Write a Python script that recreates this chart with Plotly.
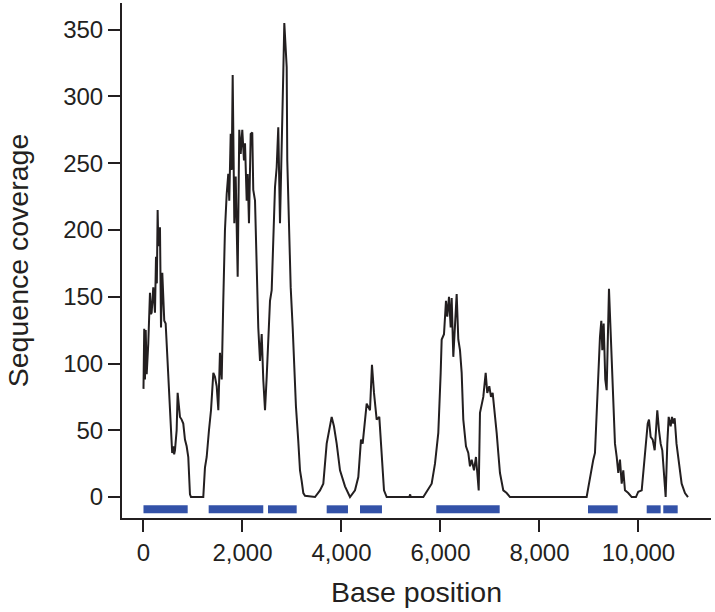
import plotly.graph_objects as go

# coverage trace
position = [0, 15, 30, 45, 65, 97, 131, 150, 165, 198, 232, 253, 270, 286, 300, 313, 333, 354, 380, 420, 448, 481, 521,
            556, 580, 602, 620, 636, 670, 690, 703, 737, 771, 804, 838, 872, 905, 939, 960, 1208, 1242, 1277, 1323,
            1364, 1411, 1444, 1479, 1512, 1545, 1580, 1612, 1646, 1681, 1713, 1733, 1762, 1782, 1802, 1835, 1863,
            1903, 1935, 1964, 1996, 2030, 2051, 2085, 2105, 2131, 2166, 2198, 2218, 2253, 2287, 2319, 2354, 2388,
            2420, 2455, 2489, 2521, 2556, 2590, 2622, 2657, 2691, 2723, 2758, 2792, 2824, 2845, 2870, 2893, 2905,
            2939, 2974, 3014, 3047, 3080, 3127, 3162, 3196, 3229, 3263, 3465, 3566, 3633, 3701, 3754, 3802, 3848,
            3903, 3970, 4071, 4172, 4273, 4340, 4394, 4428, 4509, 4576, 4616, 4657, 4711, 4764, 4812, 4859, 4913,
            5370, 5387, 5400, 5653, 5721, 5788, 5822, 5889, 5936, 5956, 6004, 6024, 6071, 6111, 6137, 6172, 6206,
            6226, 6259, 6307, 6327, 6360, 6394, 6428, 6461, 6515, 6562, 6596, 6630, 6677, 6717, 6744, 6772, 6798,
            6832, 6865, 6913, 6945, 6986, 7020, 7054, 7101, 7135, 7168, 7202, 7269, 7337, 7404, 8953, 8986, 9034,
            9087, 9121, 9156, 9188, 9222, 9249, 9269, 9297, 9329, 9357, 9384, 9404, 9431, 9458, 9491, 9525, 9560,
            9592, 9626, 9661, 9693, 9727, 9794, 9863, 9949, 9996, 10065, 10111, 10152, 10186, 10212, 10246, 10287,
            10327, 10354, 10380, 10414, 10448, 10481, 10515, 10549, 10582, 10610, 10650, 10677, 10703, 10731,
            10768, 10784, 10824, 10872, 10939, 11000]
coverage = [81, 126, 88, 125, 92, 115, 153, 137, 138, 157, 138, 180, 160, 215, 188, 190, 202, 127, 168, 132, 130, 105, 75,
            45, 33, 38, 32, 35, 50, 78, 72, 60, 58, 55, 43, 38, 30, 2, 0, 0, 22, 30, 50,
            65, 93, 90, 83, 65, 108, 88, 147, 200, 227, 242, 222, 272, 245, 316, 205, 240,
            165, 275, 257, 275, 252, 265, 222, 242, 205, 272, 273, 230, 222, 172, 127, 102, 122,
            88, 65, 90, 115, 147, 155, 187, 232, 247, 277, 205, 277, 317, 355, 335, 322, 252,
            202, 157, 127, 90, 68, 42, 20, 12, 3, 1, 0, 5, 10, 40, 50, 60, 53,
            40, 20, 8, 0, 5, 15, 43, 40, 70, 65, 99, 78, 58, 60, 35, 5, 0,
            0, 2, 0, 0, 4, 8, 10, 25, 40, 48, 93, 118, 122, 147, 135, 150, 127,
            149, 105, 147, 152, 118, 110, 93, 58, 38, 33, 23, 28, 20, 30, 18, 5, 63,
            70, 75, 93, 78, 83, 75, 78, 63, 48, 33, 18, 5, 3, 0, 0, 7, 18,
            28, 33, 65, 90, 120, 132, 110, 130, 88, 80, 140, 156, 130, 100, 65, 40, 30,
            18, 28, 10, 20, 5, 3, 0, 0, 4, 5, 23, 40, 55, 58, 45, 43,
            35, 50, 65, 50, 40, 35, 15, 0, 40, 60, 53, 60, 55, 59,
            40, 35, 25, 10, 3, 0]

# annotated regions drawn under the trace
region_start = [0, 1317, 2515, 3701, 4374, 5915, 8980, 10166, 10501]
region_end = [893, 2420, 3095, 4131, 4818, 7196, 9580, 10448, 10792]
region_level = -9.2

bar_x, bar_y = [], []
for s, e in zip(region_start, region_end):
    bar_x += [s, e, None]
    bar_y += [region_level, region_level, None]

fig = go.Figure()
fig.add_trace(go.Scatter(x=bar_x, y=bar_y, mode="lines",
                         line=dict(color="#3352a8", width=8), hoverinfo="skip"))
fig.add_trace(go.Scatter(x=position, y=coverage, mode="lines",
                         line=dict(color="#231f20", width=2)))

font = "Liberation Sans, Arial, sans-serif"
fig.update_layout(
    width=715, height=612,
    showlegend=False,
    plot_bgcolor="white", paper_bgcolor="white",
    margin=dict(l=122, r=4, t=3, b=94),
    font=dict(family=font, color="#231f20"),
)
fig.update_xaxes(
    range=[-434, 11465], tickvals=[0, 2000, 4000, 6000, 8000, 10000], tickformat=",d",
    showline=True, linecolor="#231f20", linewidth=2, showgrid=False, zeroline=False,
    ticks="outside", ticklen=12, tickwidth=2, tickcolor="#231f20", automargin=False,
    tickfont=dict(size=24), title=dict(text="Base position", font=dict(size=28.5), standoff=17),
)
fig.update_yaxes(
    range=[-15.7, 370], tickvals=[0, 50, 100, 150, 200, 250, 300, 350],
    showline=True, linecolor="#231f20", linewidth=2, showgrid=False, zeroline=False,
    ticks="outside", ticklen=12, tickwidth=2, tickcolor="#231f20", automargin=False,
    tickfont=dict(size=24), title=dict(text="Sequence coverage", font=dict(size=28.5), standoff=26),
)

# page has a default 8px body margin; drop it so the figure sits at the window corner
fig.write_html("out.html", config={"displayModeBar": False},
               post_script="document.body.style.margin='0';")
